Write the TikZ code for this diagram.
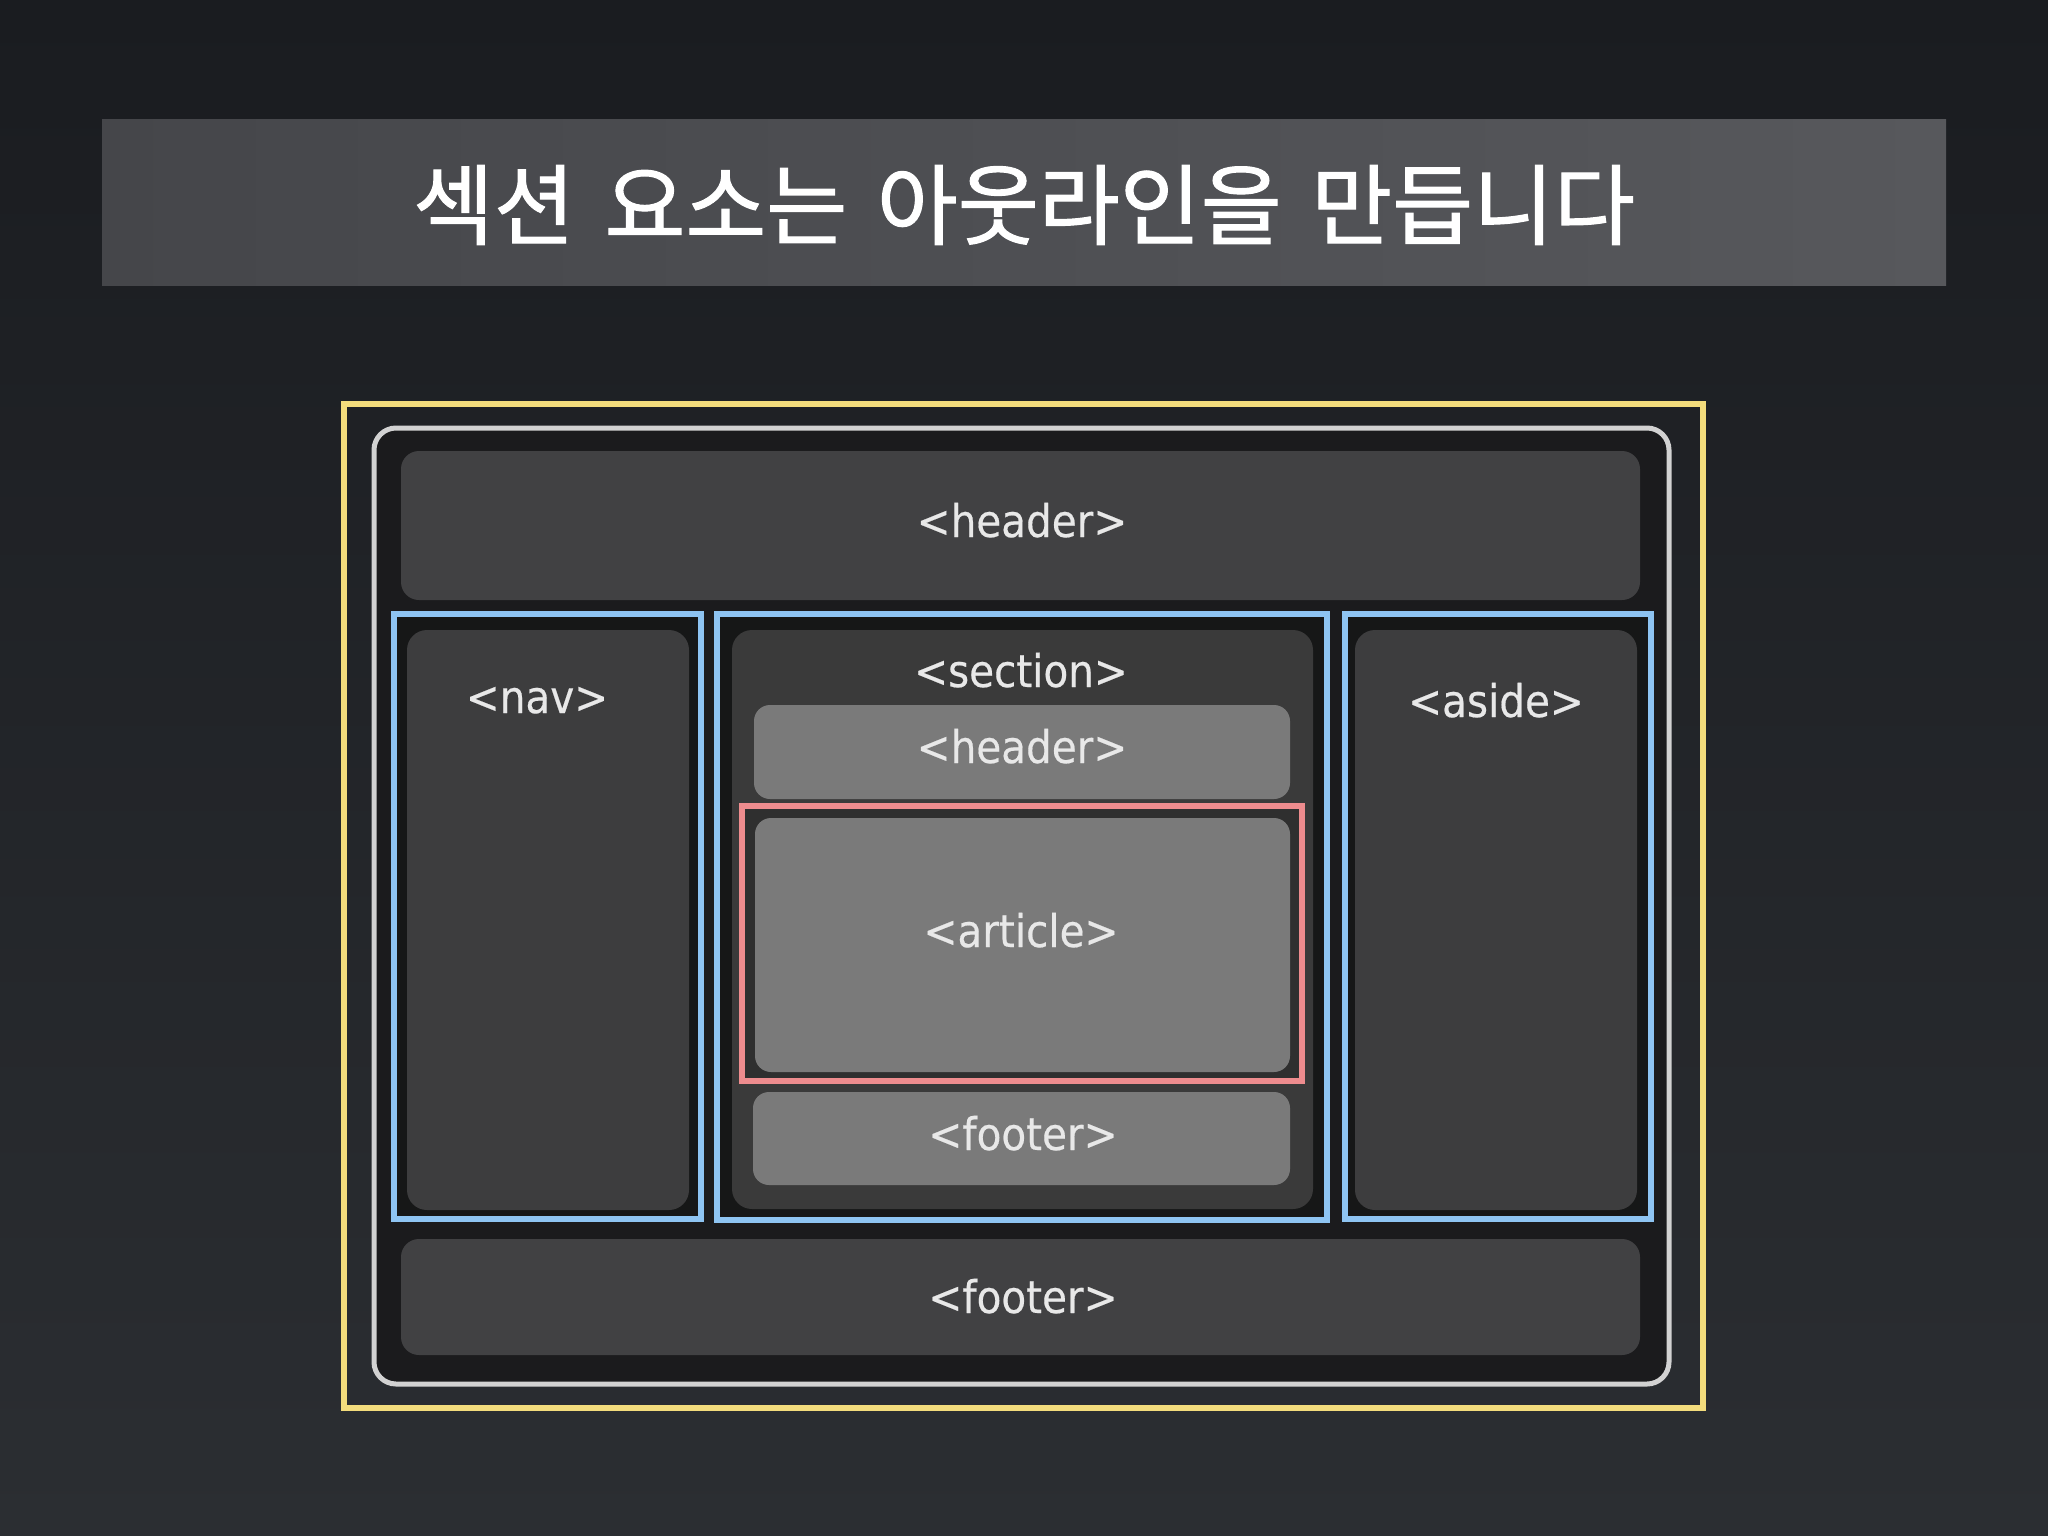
\documentclass[tikz,border=0pt]{standalone}
\usepackage{fontspec}
\newfontfamily\cjkfont[WordSpace=1.5, FakeBold=1.2]{Noto Sans CJK KR}
\newfontfamily\tagfont[FakeStretch=0.9, FakeBold=0.4]{DejaVu Sans}
\definecolor{bgtop}{HTML}{1A1C20}
\definecolor{bgbot}{HTML}{2B2E32}
\definecolor{bannerL}{HTML}{45464A}
\definecolor{bannerR}{HTML}{57585C}
\definecolor{frameY}{HTML}{F3DC7C}
\definecolor{frameW}{HTML}{D2D2D2}
\definecolor{frameB}{HTML}{8EC4F2}
\definecolor{frameP}{HTML}{EE8C8E}
\definecolor{panelDark}{HTML}{1B1B1D}
\definecolor{slotDark}{HTML}{161717}
\definecolor{barGray}{HTML}{414143}
\definecolor{colGray}{HTML}{3D3D3E}
\definecolor{secGray}{HTML}{3A3A3A}
\definecolor{lightGray}{HTML}{7A7A7A}
\definecolor{pinkIn}{HTML}{2F2F2F}
\definecolor{tagText}{HTML}{E8E8E8}
\tikzset{
  every node/.style={inner sep=0pt, outer sep=0pt},
  areabox/.style={rectangle, rounded corners=#1},
  areabox/.default=18pt,
  tagbox/.style={rectangle, line width=5.5pt, draw=frameB, fill=slotDark},
  taglabel/.style={anchor=base, text=tagText, font=\tagfont\fontsize{45}{45}\selectfont},
}
% helper: box from corners (x1,y1) to (x2,y2) in px
\newcommand{\pxbox}[6]{% style, name, x1, y1, x2, y2
  \node[#1, minimum width={(#5)-(#3)}, minimum height={(#6)-(#4)}]
    (#2) at ({((#3)+(#5))/2},{((#4)+(#6))/2}) {};}
\begin{document}
\begin{tikzpicture}[x=1pt, y=-1pt]
\useasboundingbox (0,0) rectangle (2048,1536);
\shade[top color=bgtop, bottom color=bgbot] (0,0) rectangle (2048,1536);
% banner
\shade[left color=bannerL, right color=bannerR] (102,120) rectangle (1946,285);
\node[text=white, font=\cjkfont\fontsize{88}{88}\selectfont] (title) at (1024,205) {섹션 요소는 아웃라인을 만듭니다};
% outer frames
\pxbox{rectangle, draw=frameY, line width=6pt}{yellow}{344}{404}{1703}{1408}
\pxbox{areabox=22pt, draw=frameW, line width=5pt, fill=panelDark}{white}{374}{428}{1669}{1384}
% header / footer bars
\pxbox{areabox, fill=barGray}{hdr}{401}{451}{1640}{600}
\pxbox{areabox, fill=barGray}{ftr}{401}{1239}{1640}{1355}
% nav
\pxbox{tagbox}{navB}{394}{614}{701}{1219}
\pxbox{areabox=20pt, fill=colGray}{nav}{407}{630}{689}{1210}
% section
\pxbox{tagbox}{secB}{717}{614}{1327}{1220}
\pxbox{areabox=20pt, fill=secGray}{sec}{732}{630}{1313}{1209}
% aside
\pxbox{tagbox}{asideB}{1345}{614}{1651}{1219}
\pxbox{areabox=20pt, fill=colGray}{aside}{1355}{630}{1637}{1210}
% section contents
\pxbox{areabox=16pt, fill=lightGray}{shdr}{754}{705}{1290}{799}
\pxbox{rectangle, draw=frameP, line width=5.5pt, fill=pinkIn}{pinkB}{742}{806}{1302}{1081}
\pxbox{areabox=16pt, fill=lightGray}{art}{755}{818}{1290}{1072}
\pxbox{areabox=16pt, fill=lightGray}{sftr}{753}{1092}{1290}{1185}
% labels
\node[taglabel] (tHdr) at (1022,537) {<header>};
\node[taglabel] (tNav) at (537,713) {<nav>};
\node[taglabel] (tSec) at (1021,687) {<section>};
\node[taglabel] (tSHdr) at (1022,763) {<header>};
\node[taglabel] (tArt) at (1021,947) {<article>};
\node[taglabel] (tSFtr) at (1023,1150) {<footer>};
\node[taglabel] (tAside) at (1496,717) {<aside>};
\node[taglabel] (tFtr) at (1023,1313) {<footer>};
\end{tikzpicture}
\end{document}
